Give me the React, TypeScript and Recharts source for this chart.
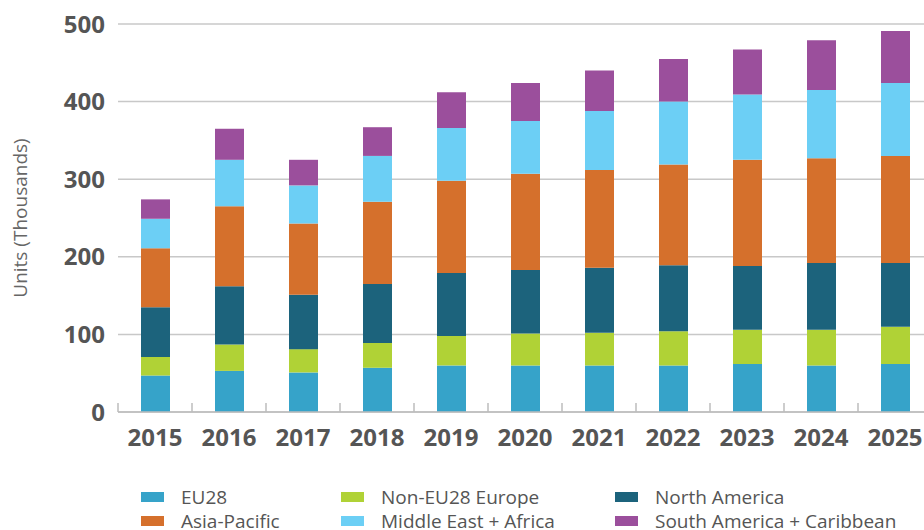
import React from "react"
import { BarChart, Bar, XAxis, YAxis, CartesianGrid } from "recharts"

const years = ["2015", "2016", "2017", "2018", "2019", "2020", "2021", "2022", "2023", "2024", "2025"]
const eu28 = [47, 53, 51, 57, 60, 60, 60, 60, 62, 60, 62]
const nonEu28 = [24, 34, 30, 32, 38, 41, 42, 44, 44, 46, 48]
const northAmerica = [64, 75, 70, 76, 81, 82, 84, 85, 82, 86, 82]
const asiaPacific = [76, 103, 92, 106, 119, 124, 126, 130, 137, 135, 138]
const middleEastAfrica = [38, 60, 49, 59, 68, 68, 76, 81, 84, 88, 94]
const southAmerica = [25, 40, 33, 37, 46, 49, 52, 55, 58, 64, 67]
const yTicks = [0, 100, 200, 300, 400, 500]

const SERIES = [
  { key: "eu28", name: "EU28", color: "#36a3c9", values: eu28 },
  { key: "nonEu28", name: "Non-EU28 Europe", color: "#b0d236", values: nonEu28 },
  { key: "northAmerica", name: "North America", color: "#1c637c", values: northAmerica },
  { key: "asiaPacific", name: "Asia-Pacific", color: "#d5702c", values: asiaPacific },
  { key: "middleEastAfrica", name: "Middle East + Africa", color: "#6ccff5", values: middleEastAfrica },
  { key: "southAmerica", name: "South America + Caribbean", color: "#9b4f9c", values: southAmerica },
]

const data = years.map((year, i) => {
  const row: Record<string, string | number> = { year }
  SERIES.forEach((s) => (row[s.key] = s.values[i]))
  return row
})

// legend order: row by row, three columns
const LEGEND_COLUMNS = [
  [SERIES[0], SERIES[3]],
  [SERIES[1], SERIES[4]],
  [SERIES[2], SERIES[5]],
]

const FONT = "'Open Sans', sans-serif"
const BAND = 74

const YearTick = (props: any) => {
  const { x, y, payload } = props
  return (
    <g>
      <line x1={x - BAND / 2} x2={x - BAND / 2} y1={y} y2={y - 9} stroke="#bdbdbd" strokeWidth={1.5} />
      <text
        x={x}
        y={y + 34}
        textAnchor="middle"
        fill="#555"
        fontSize={24}
        fontWeight={700}
        fontFamily={FONT}
      >
        {payload.value}
      </text>
    </g>
  )
}

const AxisTitle = (props: any) => {
  const { viewBox } = props
  const cx = 20
  const cy = viewBox.y + viewBox.height / 2
  return (
    <text
      x={cx}
      y={cy}
      transform={`rotate(-90 ${cx} ${cy})`}
      textAnchor="middle"
      dominantBaseline="central"
      fill="#666"
      fontSize={19}
      fontFamily={FONT}
    >
      Units (Thousands)
    </text>
  )
}

export default function App() {
  return (
    <div style={{ position: "absolute", left: 0, top: 0, width: 924, height: 530, overflow: "hidden" }}>
      <BarChart
        width={940}
        height={530}
        data={data}
        margin={{ top: 24, right: 8, bottom: 0, left: 0 }}
      >
        <CartesianGrid vertical={false} stroke="#c8c8c8" strokeWidth={1.5} />
        <XAxis
          dataKey="year"
          height={118}
          axisLine={{ stroke: "#bdbdbd", strokeWidth: 1.5 }}
          tickLine={false}
          tickSize={0}
          tickMargin={0}
          interval={0}
          tick={<YearTick />}
        />
        <YAxis
          width={118}
          domain={[0, 500]}
          ticks={yTicks}
          axisLine={false}
          tickLine={false}
          tickSize={0}
          tickMargin={13}
          tick={{ fill: "#555", fontSize: 24, fontWeight: 700, fontFamily: FONT }}
          label={<AxisTitle />}
        />
        {SERIES.map((s) => (
          <Bar
            key={s.key}
            dataKey={s.key}
            name={s.name}
            stackId="total"
            fill={s.color}
            barSize={29}
            isAnimationActive={false}
          />
        ))}
      </BarChart>
      <div
        style={{
          position: "absolute",
          left: 141,
          top: 485,
          display: "flex",
          fontFamily: FONT,
          fontSize: 19,
          color: "#555",
          whiteSpace: "nowrap",
        }}
      >
        {LEGEND_COLUMNS.map((col, ci) => (
          <div key={ci} style={{ width: ci === 0 ? 200 : ci === 1 ? 274 : 300 }}>
            {col.map((s) => (
              <div key={s.key} style={{ display: "flex", alignItems: "center", height: 24 }}>
                <span style={{ width: 23, height: 10, background: s.color, marginRight: 17, flexShrink: 0 }} />
                <span style={{ lineHeight: "24px" }}>{s.name}</span>
              </div>
            ))}
          </div>
        ))}
      </div>
    </div>
  )
}
